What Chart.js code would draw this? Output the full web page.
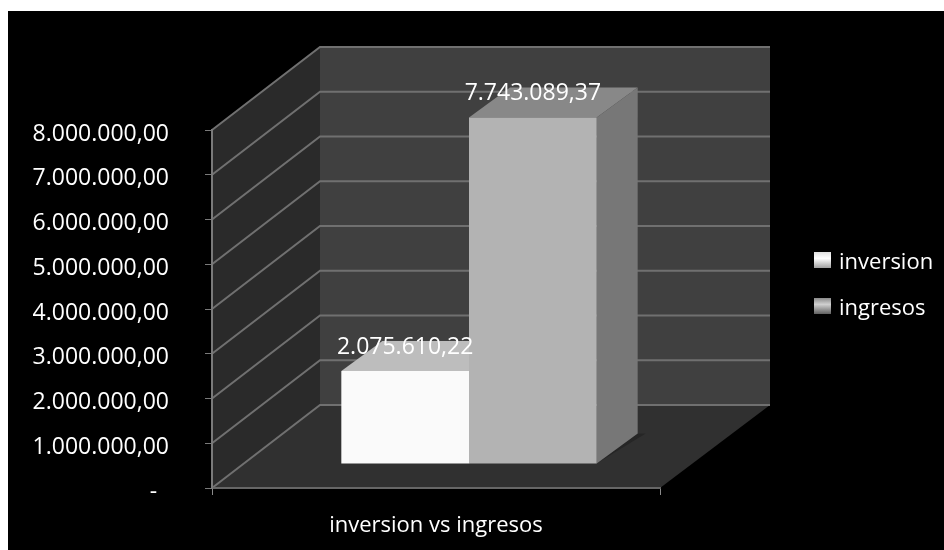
<!DOCTYPE html>
<html>
<head>
<meta charset="utf-8">
<style>
body { margin: 0; background: #fff; }
canvas { display: block; filter: blur(0.5px); }
</style>
<script src="https://cdn.jsdelivr.net/npm/chart.js@4"></script>
</head>
<body>
<canvas id="grafico" width="944" height="550"></canvas>
<script>
const categorias = ['inversion vs ingresos'];
const inversion = [2075610.22];
const ingresos = [7743089.37];
const etiquetasInversion = ['2.075.610,22'];
const etiquetasIngresos = ['7.743.089,37'];
const ticksY = ['-\u00a0\u00a0', '1.000.000,00', '2.000.000,00', '3.000.000,00', '4.000.000,00',
    '5.000.000,00', '6.000.000,00', '7.000.000,00', '8.000.000,00'];

const fuente = '"Open Sans", sans-serif';
// perspectiva de la caja 3D
const fondoX = 108, fondoY = 83;
const barraX = 33, barraY = 24;
const ladoX = 41, ladoY = 30;

function poligono(ctx, puntos, color) {
    ctx.fillStyle = color;
    ctx.beginPath();
    puntos.forEach((p, i) => i ? ctx.lineTo(p[0], p[1]) : ctx.moveTo(p[0], p[1]));
    ctx.closePath();
    ctx.fill();
}

const caja3d = {
    id: 'caja3d',
    beforeDraw(chart) {
        const ctx = chart.ctx;
        const { left, right, top, bottom } = chart.chartArea;
        const y = chart.scales.y;
        ctx.save();
        ctx.fillStyle = '#000';
        ctx.fillRect(8, 11, 936, 539);
        // pared izquierda, fondo y piso
        poligono(ctx, [[left, top], [left + fondoX, top - fondoY], [left + fondoX, bottom - fondoY], [left, bottom]], '#2a2a2a');
        poligono(ctx, [[left + fondoX, top - fondoY], [right + fondoX + 2, top - fondoY], [right + fondoX + 2, bottom - fondoY], [left + fondoX, bottom - fondoY]], '#404040');
        poligono(ctx, [[left, bottom], [left + fondoX, bottom - fondoY], [right + fondoX + 2, bottom - fondoY], [right, bottom]], '#303030');
        // lineas de grilla
        ctx.strokeStyle = '#707070';
        ctx.lineWidth = 2;
        y.ticks.forEach(t => {
            const py = y.getPixelForValue(t.value);
            ctx.beginPath();
            ctx.moveTo(left, py);
            ctx.lineTo(left + fondoX, py - fondoY);
            ctx.lineTo(right + fondoX + 2, py - fondoY);
            ctx.stroke();
        });
        ctx.restore();
    },
    beforeDatasetsDraw(chart) {
        const ctx = chart.ctx;
        ctx.save();
        ctx.translate(barraX, -barraY);
        const caras = [['#bdbdbd', '#8a8a8a'], ['#888888', '#777777']];
        chart.data.datasets.forEach((d, i) => {
            chart.getDatasetMeta(i).data.forEach(b => {
                const izq = b.x - b.width / 2, der = b.x + b.width / 2;
                // sombra en el piso
                poligono(ctx, [[der, b.base], [der + ladoX + 8, b.base - ladoY], [der + ladoX, b.base - ladoY]], '#262626');
                poligono(ctx, [[izq, b.y], [izq + ladoX, b.y - ladoY], [der + ladoX, b.y - ladoY], [der, b.y]], caras[i][0]);
                poligono(ctx, [[der, b.y], [der + ladoX, b.y - ladoY], [der + ladoX, b.base - ladoY], [der, b.base]], caras[i][1]);
            });
        });
        ctx.restore();
        // las barras quedan desplazadas hacia el fondo
        ctx.save();
        ctx.translate(barraX, -barraY);
    },
    afterDatasetsDraw(chart) {
        chart.ctx.restore();
    },
    afterDraw(chart) {
        const ctx = chart.ctx;
        ctx.save();
        // etiquetas de datos
        ctx.font = '23px ' + fuente;
        ctx.fillStyle = '#fff';
        ctx.textAlign = 'center';
        ctx.textBaseline = 'middle';
        [etiquetasInversion, etiquetasIngresos].forEach((textos, i) => {
            chart.getDatasetMeta(i).data.forEach((b, j) => {
                ctx.fillText(textos[j], b.x + barraX, b.y - barraY - 24);
            });
        });
        // leyenda
        const cuadros = [['#fff', '#e0e0e0', '#a0a0a0'], ['#d0d0d0', '#8a8a8a', '#606060']];
        ctx.textAlign = 'left';
        ctx.font = '22px ' + fuente;
        chart.data.datasets.forEach((d, i) => {
            const ly = 260 + i * 46;
            const g = ctx.createLinearGradient(0, ly - 8, 0, ly + 8);
            g.addColorStop(0, cuadros[i][1]);
            g.addColorStop(0.4, cuadros[i][0]);
            g.addColorStop(1, cuadros[i][2]);
            ctx.fillStyle = g;
            ctx.fillRect(814, ly - 8, 17, 16);
            ctx.fillStyle = '#fff';
            ctx.fillText(d.label, 839, ly + 3);
        });
        ctx.restore();
    }
};

new Chart(document.getElementById('grafico'), {
    type: 'bar',
    data: {
        labels: categorias,
        datasets: [
            { label: 'inversion', data: inversion, backgroundColor: '#fafafa', clip: false },
            { label: 'ingresos', data: ingresos, backgroundColor: '#b3b3b3', clip: false }
        ]
    },
    options: {
        responsive: false,
        animation: false,
        devicePixelRatio: 1,
        layout: { padding: { top: 130, right: 284 } },
        datasets: { bar: { barPercentage: 1, categoryPercentage: 0.57 } },
        plugins: { legend: { display: false }, tooltip: { enabled: false } },
        scales: {
            x: {
                afterFit(scale) { scale.height = 62; },
                border: { color: '#666', width: 2 },
                grid: { offset: true, drawOnChartArea: false, color: '#8a8a8a', tickLength: 7 },
                ticks: { color: '#fff', font: { family: fuente, size: 22 }, padding: 18 }
            },
            y: {
                min: 0,
                max: 8000000,
                afterFit(scale) { scale.width = 212; },
                border: { color: '#7a7a7a', width: 2 },
                grid: { drawOnChartArea: false, color: '#7a7a7a', tickLength: 7 },
                ticks: {
                    stepSize: 1000000,
                    color: '#fff',
                    padding: 36,
                    labelOffset: 4,
                    font: { family: fuente, size: 23 },
                    callback: (v, i) => ticksY[i]
                }
            }
        }
    },
    plugins: [caja3d]
});
</script>
</body>
</html>
